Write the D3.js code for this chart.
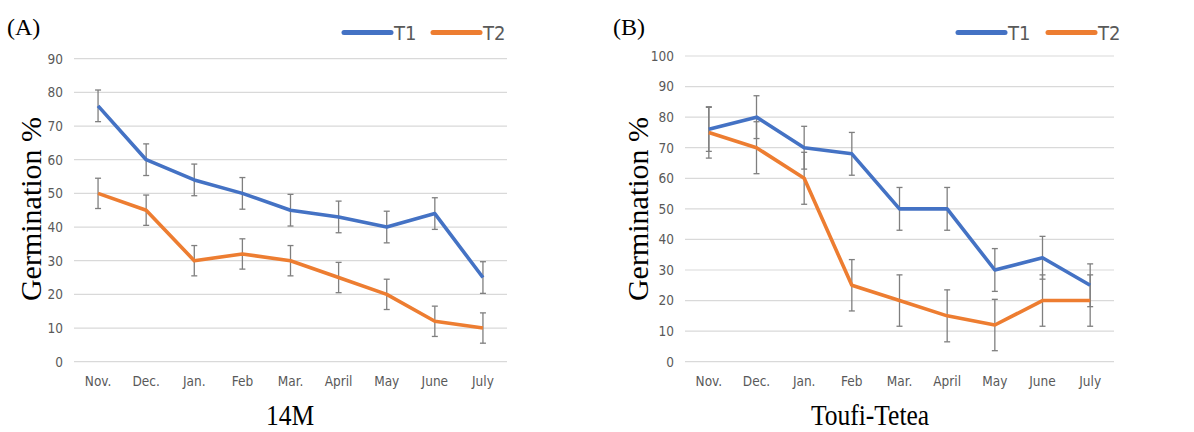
<!DOCTYPE html>
<html>
<head>
<meta charset="utf-8">
<script src="https://cdn.jsdelivr.net/npm/d3@7"></script>
<style>
  body { margin: 0; background: #fff; }
  .serif { font-family: "Liberation Serif", "DejaVu Serif", serif; fill: #000; }
  .leg { font-family: "Liberation Sans Narrow", "DejaVu Sans Condensed", sans-serif; font-stretch: condensed; fill: #595959; font-size: 20px; }
</style>
</head>
<body>
<svg width="1194" height="432"></svg>
<script>
const months = ["Nov.", "Dec.", "Jan.", "Feb", "Mar.", "April", "May", "June", "July"];

// panel A: 14M
const a_T1 = [76, 60, 54, 50, 45, 43, 40, 44, 25];
const a_T1err = [4.7, 4.7, 4.7, 4.7, 4.7, 4.7, 4.7, 4.7, 4.7];
const a_T2 = [50, 45, 30, 32, 30, 25, 20, 12, 10];
const a_T2err = [4.5, 4.5, 4.5, 4.5, 4.5, 4.5, 4.5, 4.5, 4.5];
const a_ticks = [0, 10, 20, 30, 40, 50, 60, 70, 80, 90];

// panel B: Toufi-Tetea
const b_T1 = [76, 80, 70, 68, 50, 50, 30, 34, 25];
const b_T1err = [7.2, 7, 7, 7, 7, 7, 7, 7, 7];
const b_T2 = [75, 70, 60, 25, 20, 15, 12, 20, 20];
const b_T2err = [8.4, 8.5, 8.5, 8.4, 8.4, 8.5, 8.4, 8.4, 8.4];
const b_ticks = [0, 10, 20, 30, 40, 50, 60, 70, 80, 90, 100];

const blue = "#4472C4", orange = "#ED7D31";
const svg = d3.select("svg");

function styleTicks(axis) {
  axis.select(".domain").remove();
  axis.selectAll("text")
    .style("font-family", '"Liberation Sans Narrow", "DejaVu Sans Condensed", sans-serif')
    .style("font-size", "13.5px")
    .style("fill", "#595959");
}

function panel(o) {
  const g = svg.append("g");
  const x = d3.scaleBand().domain(months).range([o.x0, o.x1]);
  const y = d3.scaleLinear().domain([0, o.ymax]).range([361.7, o.ytop]);

  // gridlines
  g.append("g").selectAll("line").data(o.ticks).join("line")
    .attr("x1", o.x0).attr("x2", o.x1)
    .attr("y1", d => y(d)).attr("y2", d => y(d))
    .attr("stroke", "#d9d9d9").attr("stroke-width", 1.2);

  g.append("g").attr("transform", `translate(${o.x0},0)`)
    .call(d3.axisLeft(y).tickValues(o.ticks).tickSize(0).tickPadding(o.x0 - o.lblX))
    .call(styleTicks);

  g.append("g").attr("transform", "translate(0,361.7)")
    .call(d3.axisBottom(x).tickSize(0).tickPadding(15))
    .call(styleTicks);

  const cx = d => x(d) + x.bandwidth() / 2;
  const series = [
    { v: o.T1, e: o.T1err, c: blue },
    { v: o.T2, e: o.T2err, c: orange }
  ];

  // error bars
  series.forEach(s => {
    const eb = g.append("g").attr("stroke", "#7f7f7f").attr("stroke-width", 1.3);
    months.forEach((m, i) => {
      const top = y(s.v[i] + s.e[i]), bot = y(s.v[i] - s.e[i]);
      eb.append("line").attr("x1", cx(m)).attr("x2", cx(m)).attr("y1", top).attr("y2", bot);
      eb.append("line").attr("x1", cx(m) - 3).attr("x2", cx(m) + 3).attr("y1", top).attr("y2", top);
      eb.append("line").attr("x1", cx(m) - 3).attr("x2", cx(m) + 3).attr("y1", bot).attr("y2", bot);
    });
  });

  const line = d3.line().x((d, i) => cx(months[i])).y(d => y(d));
  series.forEach(s => {
    g.append("path").datum(s.v).attr("d", line)
      .attr("fill", "none").attr("stroke", s.c).attr("stroke-width", 3.6)
      .attr("stroke-linejoin", "round");
  });

  // legend
  [[o.leg[0], blue, "T1"], [o.leg[1], orange, "T2"]].forEach(([lx, c, t]) => {
    g.append("line").attr("x1", lx).attr("x2", lx + 47).attr("y1", 32.5).attr("y2", 32.5)
      .attr("stroke", c).attr("stroke-width", 5).attr("stroke-linecap", "round");
    g.append("text").attr("class", "leg").attr("x", lx + 50).attr("y", 39.5).text(t);
  });

  g.append("text").attr("class", "serif").attr("x", o.labX).attr("y", 35)
    .style("font-size", "24px").text(o.label);

  g.append("text").attr("class", "serif")
    .attr("transform", `translate(${o.titleX},209) rotate(-90)`)
    .attr("text-anchor", "middle").style("font-size", "30px").text("Germination %");

  g.append("text").attr("class", "serif")
    .attr("transform", `translate(${o.xtX},425) scale(0.88,1)`)
    .attr("text-anchor", "middle").style("font-size", "29px").text(o.xtitle);
}

panel({ x0: 74, x1: 507, ytop: 58.7, ymax: 90, ticks: a_ticks, lblX: 63,
  T1: a_T1, T1err: a_T1err, T2: a_T2, T2err: a_T2err,
  leg: [344, 433], label: "(A)", labX: 7, titleX: 41, xtitle: "14M", xtX: 290 });

panel({ x0: 685, x1: 1114, ytop: 56, ymax: 100, ticks: b_ticks, lblX: 674,
  T1: b_T1, T1err: b_T1err, T2: b_T2, T2err: b_T2err,
  leg: [958, 1048], label: "(B)", labX: 613, titleX: 648, xtitle: "Toufi-Tetea", xtX: 870 });
</script>
</body>
</html>
